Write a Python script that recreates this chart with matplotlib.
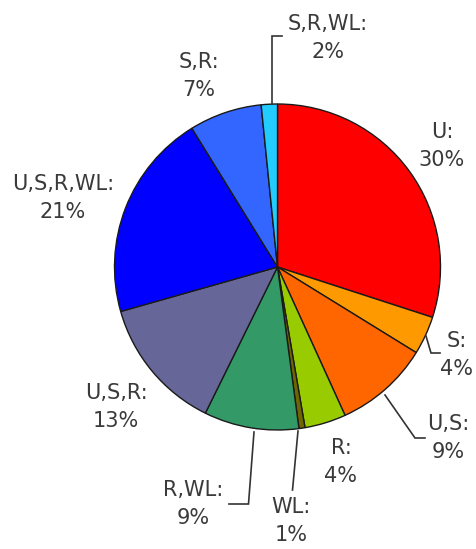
import matplotlib
matplotlib.use("Agg")
import matplotlib.pyplot as plt

# ---- data (clockwise from 12 o'clock) ----
categories = ["U", "S", "U,S", "R", "WL", "R,WL", "U,S,R", "U,S,R,WL", "S,R", "S,R,WL"]
values = [30.0, 3.8, 9.4, 4.1, 0.6, 9.4, 13.3, 20.6, 7.2, 1.6]
colors = ["#FF0000", "#FF9900", "#FF6600", "#99CC00", "#6E6600",
          "#339966", "#666699", "#0000FF", "#3366FF", "#22CCFF"]

# ---- layout (pixel coordinates, y measured from the top) ----
W, H = 477, 549
center_px = (277.5, 267)
radius_px = 163
label_pos = {
    "U": (442, 146),
    "S": (457, 355),
    "U,S": (448, 438),
    "R": (341, 462),
    "WL": (291, 521),
    "R,WL": (193, 504),
    "U,S,R": (116, 407),
    "U,S,R,WL": (63, 198),
    "S,R": (199, 76),
    "S,R,WL": (328, 38),
}
leaders = {
    "S,R,WL": [(271.7, 104), (271.7, 36), (282, 36)],
    "S": [(426, 336), (431, 353), (440, 353)],
    "U,S": [(385, 395), (415, 438), (425, 438)],
    "WL": [(298, 431), (292.5, 490)],
    "R,WL": [(254, 432), (248.5, 504), (229, 504)],
}

fig = plt.figure(figsize=(W / 100, H / 100), dpi=100)
ax = fig.add_axes([0, 0, 1, 1])

ax.pie(values, colors=colors, startangle=90, counterclock=False,
       center=(center_px[0], H - center_px[1]), radius=radius_px,
       wedgeprops=dict(edgecolor="#1a1a1a", linewidth=1.0))
ax.set_xlim(0, W)
ax.set_ylim(0, H)
ax.set_aspect("equal")
ax.axis("off")

text_color = "#3a3a3a"
for name, v in zip(categories, values):
    x, y = label_pos[name]
    ax.text(x, H - y, f"{name}:\n{v:.0f}%", ha="center", va="center",
            fontsize=15, color=text_color, linespacing=1.5,
            multialignment="center", family="DejaVu Sans")

for name, pts in leaders.items():
    xs = [p[0] for p in pts]
    ys = [H - p[1] for p in pts]
    ax.plot(xs, ys, color="#333333", linewidth=1.2, solid_joinstyle="miter")

fig.savefig("out.png", dpi=100)
